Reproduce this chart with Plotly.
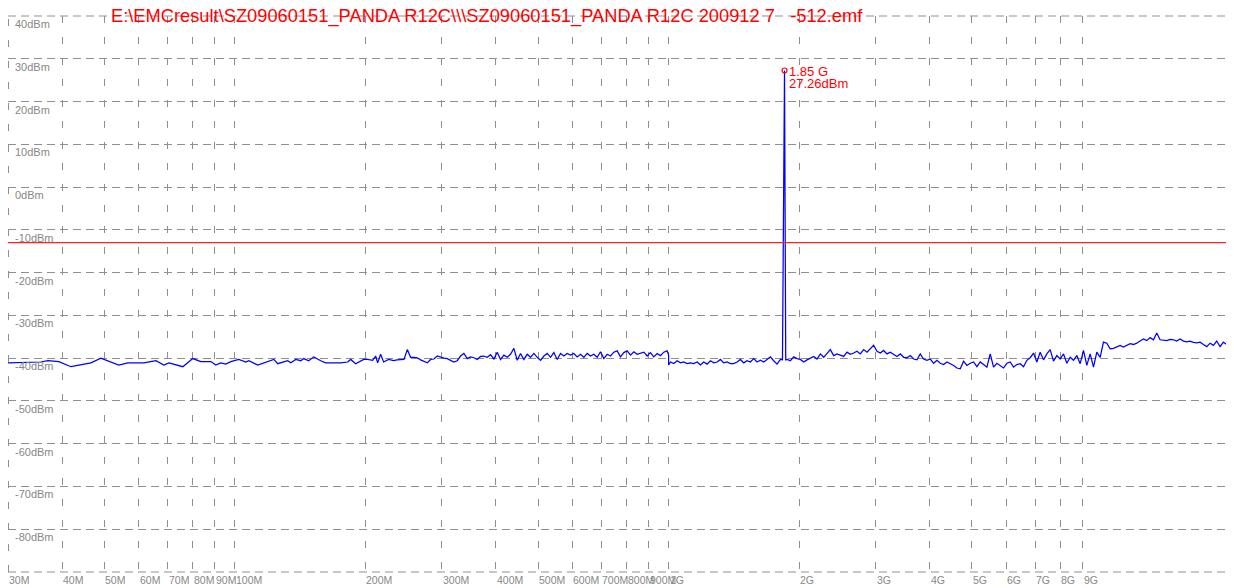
import numpy as np
import plotly.graph_objects as go

# ---------------- data ----------------
title_text = (r"E:\EMCresult\SZ09060151_PANDA R12C\\\SZ09060151_PANDA R12C 200912 7"
              + "\u00a0\u00a0\u00a0" + "-512.emf")

# sweep 30 MHz - 241 MHz
freq_low_mhz = [30.0, 35.7, 37.1, 39.3, 41.9, 46.6, 49.1, 54.0, 56.7, 61.7,
                65.8, 68.6, 70.5, 75.9, 80.0, 83.5, 88.1, 90.4, 92.8, 95.3,
                97.9, 102.1, 106.0, 107.7, 112.9, 119.1, 123.0, 125.6, 129.0, 132.4,
                134.6, 138.2, 141.9, 144.2, 148.0, 152.0, 157.8, 162.0, 169.0, 175.4,
                182.0, 185.0, 189.9, 195.0, 198.2, 202.4, 207.8, 211.2, 213.4, 216.8,
                220.3, 226.3, 232.3, 236.5]
level_low_dbm = [-41.1, -40.9, -40.6, -40.8, -42.0, -41.1, -40.0, -41.6, -41.1, -41.1,
                 -40.6, -41.6, -41.1, -42.0, -40.1, -40.8, -40.8, -41.6, -41.1, -41.4,
                 -40.8, -40.3, -40.9, -40.6, -41.6, -40.9, -40.3, -41.3, -40.9, -40.6,
                 -41.1, -40.3, -40.6, -40.1, -40.6, -39.7, -40.6, -41.1, -41.1, -41.1,
                 -40.9, -40.3, -41.3, -40.6, -40.3, -40.3, -40.5, -39.5, -41.1, -39.1,
                 -40.9, -40.3, -40.6, -40.4]

# sweep 241 MHz - 1 GHz
freq_mid_mhz = [241.1, 245.4, 249.8, 254.2, 258.8, 263.4, 268.1, 272.8, 277.7, 282.7,
                287.7, 292.8, 298.1, 303.4, 308.8, 314.3, 319.9, 325.6, 331.4, 337.3,
                343.4, 349.5, 355.8, 362.1, 368.6, 375.1, 381.8, 388.6, 395.6, 402.6,
                409.8, 417.1, 424.6, 432.1, 439.8, 447.7, 455.7, 463.8, 472.1, 480.5,
                489.1, 497.8, 506.7, 515.8, 525.0, 534.3, 543.8, 553.5, 563.4, 573.5,
                583.7, 594.1, 604.7, 615.5, 626.5, 637.6, 649.0, 660.6, 672.4, 684.4,
                696.6, 709.0, 721.7, 734.6, 747.7, 761.0, 774.6, 788.4, 802.4, 816.8,
                831.3, 846.1, 861.2, 876.6, 892.3, 908.1, 924.3, 940.8, 957.6, 974.7,
                992.1, 1000.0]
level_mid_dbm = [-40.3, -40.3, -38.0, -39.8, -39.8, -39.9, -40.4, -40.8, -41.1, -40.3,
                 -40.2, -39.5, -39.8, -40.0, -40.1, -40.5, -40.9, -40.6, -39.5, -38.9,
                 -40.1, -39.7, -39.9, -40.3, -39.6, -39.5, -39.8, -39.2, -40.2, -38.6,
                 -40.3, -39.3, -39.8, -39.1, -37.7, -40.5, -38.9, -40.3, -39.1, -39.8,
                 -38.9, -39.8, -40.5, -39.5, -38.9, -39.8, -38.7, -40.3, -38.9, -39.5,
                 -38.9, -39.3, -38.9, -39.7, -39.1, -39.8, -38.9, -39.5, -39.1, -39.8,
                 -38.5, -40.1, -39.1, -39.5, -38.6, -38.3, -39.7, -38.7, -38.3, -39.3,
                 -38.5, -39.1, -38.9, -38.6, -39.5, -38.7, -39.7, -38.9, -39.4, -38.6,
                 -38.3, -39.3]

# sweep 1 GHz - 9.9 GHz (includes the 1.85 GHz carrier)
freq_high_mhz = [1000.0,
                 1009.8, 1027.8, 1046.1, 1064.8, 1083.8, 1103.1, 1122.8, 1142.8, 1163.2, 1184.0,
                 1205.1, 1226.6, 1248.5, 1270.8, 1293.4, 1316.5, 1340.0, 1363.9, 1388.2, 1413.0,
                 1438.2, 1463.9, 1490.0, 1516.6, 1543.6, 1571.1, 1599.1, 1627.7, 1656.7, 1686.2,
                 1716.3, 1746.9, 1778.1, 1809.8, 1830.0, 1850.0, 1862.0,
                 1874.9, 1908.4, 1942.4, 1977.1, 2012.3,
                 2048.2, 2084.8, 2122.0, 2159.8, 2198.2, 2237.5, 2277.3, 2318.0, 2359.4, 2401.5,
                 2444.3, 2488.0, 2532.4, 2577.5, 2623.4, 2670.2, 2717.8, 2766.3, 2815.8, 2866.0,
                 2917.1, 2969.2, 3022.3, 3076.2, 3130.8, 3186.7, 3243.5, 3301.4, 3360.4, 3420.3,
                 3481.2, 3543.4, 3606.7, 3671.0, 3736.3, 3803.0, 3870.8, 3939.8, 4010.3, 4081.8,
                 4154.6, 4228.7, 4304.3, 4380.9, 4459.0, 4538.6, 4619.4, 4701.8, 4785.9, 4871.2,
                 4958.0, 5046.6, 5136.8, 5228.3, 5321.3, 5416.4, 5512.8, 5611.1, 5711.5, 5813.2,
                 5916.7, 6022.5, 6130.1, 6239.3, 6350.3, 6463.7, 6578.9, 6696.2, 6816.0, 6937.5,
                 7061.0, 7187.3, 7315.5, 7445.9, 7578.5, 7713.8, 7851.2, 7991.2, 8134.2, 8279.2,
                 8426.6, 8577.3, 8730.3, 8885.9, 9044.2, 9205.6, 9369.5, 9536.7, 9707.4, 9880.4]
level_high_dbm = [-41.6,
                  -40.9, -41.25, -40.6, -41.1, -40.9, -41.25, -41.1, -41.25, -40.9, -41.6,
                  -40.9, -41.4, -40.6, -41.1, -40.9, -40.3, -41.1, -40.9, -41.25, -41.25,
                  -40.9, -40.3, -41.1, -40.6, -40.9, -40.1, -40.9, -40.5, -40.9, -40.3,
                  -39.7, -40.6, -41.4, -40.3, -40.4, 27.26, -40.4,
                  -40.3, -40.6, -39.7, -40.1, -40.3,
                  -40.9, -40.4, -39.9, -39.6, -40.2, -39.0, -39.8, -38.8, -38.0, -39.4,
                  -39.0, -39.3, -39.6, -38.6, -39.1, -38.8, -38.4, -39.0, -38.0, -38.6,
                  -37.8, -37.0, -38.4, -38.8, -38.2, -39.0, -38.6, -39.1, -39.6, -39.0,
                  -39.8, -39.9, -39.4, -40.2, -40.4, -39.0, -40.2, -40.5, -40.2, -41.2,
                  -40.5, -41.2, -41.5, -40.9, -41.3, -41.7, -42.3, -42.5, -40.7, -41.7,
                  -41.2, -40.9, -42.0, -40.9, -41.5, -42.1, -39.0, -42.1, -41.2, -41.7,
                  -42.3, -41.2, -40.9, -42.1, -41.5, -41.3, -42.0, -40.5, -39.9, -38.8,
                  -40.9, -38.6, -40.4, -39.0, -38.0, -40.7, -39.4, -40.2, -39.0, -41.2,
                  -39.8, -40.5, -39.4, -41.3, -38.2, -41.7, -39.0, -42.1, -38.6, -39.8]

# sweep 10 GHz - 20 GHz
freq_top_mhz = [10056, 10236, 10419, 10605, 10793, 10986, 11182, 11381, 11585, 11791,
                12001, 12216, 12434, 12655, 12880, 13110, 13344, 13582, 13825, 14071,
                14322, 14578, 14838, 15103, 15371, 15646, 15924, 16208, 16499, 16793,
                17092, 17398, 17708, 18024, 18345, 18672, 19005, 19344, 19690, 19950]
level_top_dbm = [-36.25, -36.5, -37.8, -37.7, -37.4, -37.0, -37.4, -37.0, -36.6, -36.8,
                 -36.5, -36.0, -35.5, -35.9, -35.2, -35.7, -34.1, -35.7, -35.8, -35.9,
                 -35.6, -35.7, -36.0, -35.5, -36.0, -36.2, -36.0, -36.3, -36.4, -36.25,
                 -36.8, -37.3, -36.5, -37.0, -36.0, -37.3, -36.25, -36.8, -36.0, -36.25]

limit_dbm = -13
peak_freq_mhz = 1850.0
peak_dbm = 27.26
peak_labels = ["1.85 G", "27.26dBm"]

x_label_mhz = [30, 40, 50, 60, 70, 80, 90, 100, 200, 300, 400, 500, 600, 700, 800, 900,
               1000, 2000, 3000, 4000, 5000, 6000, 7000, 8000, 9000]
x_labels = ["30M", "40M", "50M", "60M", "70M", "80M", "90M", "100M", "200M", "300M",
            "400M", "500M", "600M", "700M", "800M", "900M", "1G", "2G", "3G", "4G",
            "5G", "6G", "7G", "8G", "9G"]
x_min_mhz, x_max_mhz = 30, 20000
y_label_vals = [40, 30, 20, 10, 0, -10, -20, -30, -40, -50, -60, -70, -80]
y_labels = ["40dBm", "30dBm", "20dBm", "10dBm", "0dBm", "-10dBm", "-20dBm", "-30dBm",
            "-40dBm", "-50dBm", "-60dBm", "-70dBm", "-80dBm"]
y_min, y_max = -90, 40

# ---------------- figure ----------------
# the page body has an 8px margin, so the figure is sized to fit 1234x588 exactly
FIG_W, FIG_H = 1226, 580
M_L, M_R, M_T, M_B = 0, 1, 8, 16
PLOT_W = FIG_W - M_L - M_R

FONT = "Liberation Sans, Arial, sans-serif"
GRID = "#8f8f8f"
HDASH = "8px,5px"
VDASH = "7px,14px"

freq = freq_low_mhz + freq_mid_mhz + freq_high_mhz + freq_top_mhz
level = level_low_dbm + level_mid_dbm + level_high_dbm + level_top_dbm

fig = go.Figure()
fig.add_trace(go.Scatter(x=freq, y=level, mode="lines",
                         line=dict(color="#0000ff", width=1.25), hoverinfo="skip"))
fig.add_trace(go.Scatter(x=[peak_freq_mhz], y=[peak_dbm], mode="markers",
                         marker=dict(symbol="circle-open", size=5, color="red",
                                     line=dict(width=1.2, color="red")),
                         hoverinfo="skip"))

edge = 0.5 / PLOT_W
shapes = [
    dict(type="line", xref="paper", yref="paper", x0=0, x1=1, y0=1, y1=1,
         line=dict(color=GRID, width=1, dash=HDASH)),
    dict(type="line", xref="paper", yref="paper", x0=0, x1=1, y0=0, y1=0,
         line=dict(color=GRID, width=1, dash=HDASH)),
    dict(type="line", xref="paper", yref="paper", x0=edge, x1=edge, y0=0, y1=1,
         line=dict(color=GRID, width=1, dash=VDASH)),
    dict(type="line", xref="paper", yref="paper", x0=1, x1=1, y0=0, y1=1,
         line=dict(color=GRID, width=1, dash=VDASH)),
    dict(type="line", xref="paper", yref="y", x0=0, x1=1, y0=limit_dbm, y1=limit_dbm,
         line=dict(color="#ff2020", width=1.2)),
]

annotations = []
for v, t in zip(y_label_vals, y_labels):
    annotations.append(dict(xref="paper", yref="y", x=0, y=v, text=t, showarrow=False,
                            xanchor="left", yanchor="top", xshift=6, yshift=-1,
                            borderpad=0, font=dict(family=FONT, size=11, color="#888888")))
for v, t in zip(x_label_mhz, x_labels):
    annotations.append(dict(xref="x", yref="paper", x=np.log10(v), y=0, text=t,
                            showarrow=False, xanchor="left", yanchor="top",
                            borderpad=0, yshift=-1,
                            font=dict(family=FONT, size=10.5, color="#888888")))
annotations.append(dict(xref="paper", yref="paper", x=(102 - M_L) / PLOT_W, y=1,
                        text=title_text, showarrow=False, xanchor="left",
                        yanchor="middle", borderpad=0, yshift=0,
                        font=dict(family=FONT, size=18.3, color="#ff0000")))
annotations.append(dict(xref="x", yref="y", x=np.log10(peak_freq_mhz), y=peak_dbm,
                        text=peak_labels[0], showarrow=False, xanchor="left",
                        yanchor="middle", xshift=3, yshift=-1, borderpad=0,
                        font=dict(family=FONT, size=13, color="#ff0000")))
annotations.append(dict(xref="x", yref="y", x=np.log10(peak_freq_mhz), y=peak_dbm,
                        text=peak_labels[1], showarrow=False, xanchor="left",
                        yanchor="middle", xshift=3, yshift=-13, borderpad=0,
                        font=dict(family=FONT, size=13, color="#ff0000")))

fig.update_layout(
    width=FIG_W, height=FIG_H,
    margin=dict(l=M_L, r=M_R, t=M_T, b=M_B),
    paper_bgcolor="white", plot_bgcolor="white",
    showlegend=False,
    shapes=shapes, annotations=annotations,
    xaxis=dict(type="log", range=[np.log10(x_min_mhz), np.log10(x_max_mhz)],
               tickvals=x_label_mhz[1:], showticklabels=False, ticks="",
               showgrid=True, gridcolor=GRID, gridwidth=1, griddash=VDASH,
               zeroline=False, showline=False, fixedrange=True),
    yaxis=dict(range=[y_min, y_max], tickvals=y_label_vals[1:], showticklabels=False,
               ticks="", showgrid=True, gridcolor=GRID, gridwidth=1, griddash=HDASH,
               zeroline=False, showline=False, fixedrange=True),
)

fig.write_html("out.html")
